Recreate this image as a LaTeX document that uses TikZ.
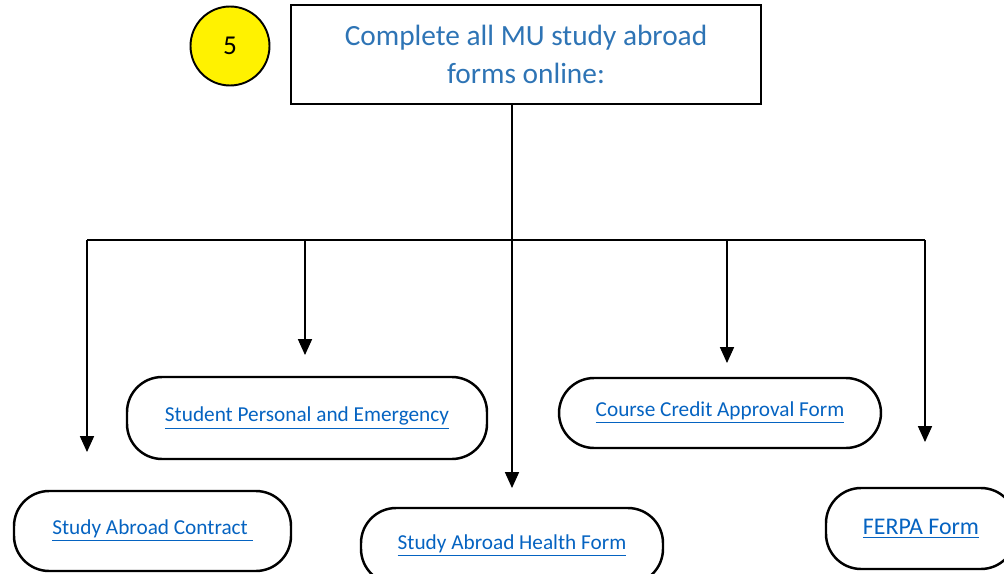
\documentclass[tikz,border=0pt]{standalone}
\usepackage{fontspec}
\setmainfont{Carlito}
\usetikzlibrary{arrows.meta}
\definecolor{titleblue}{HTML}{2E74B5}
\definecolor{linkblue}{HTML}{0563C1}
\tikzset{
  formbox/.style={draw=black, line width=1.4pt, rounded corners=20pt, inner sep=0pt, text=linkblue, font=\fontsize{12.1}{14}\selectfont},
  tip/.style={-{Triangle[length=9pt,width=8pt]}, line width=0.6pt}
}
\begin{document}
\begin{tikzpicture}[x=0.02cm,y=-0.02cm]
\useasboundingbox (0,0) rectangle (1004,574);
\node [circle, draw=black, line width=1.1pt, fill=yellow, minimum size=79*0.02cm, font=\fontsize{15.5}{18}\selectfont] (num) at (230,46) {5};
\node [draw=black, line width=1.1pt, minimum width=470*0.02cm, minimum height=99*0.02cm, align=center, text=titleblue, font=\fontsize{16.7}{21.5}\selectfont] (top) at (526,54.5) {Complete all MU study abroad\\forms online:};
\node [formbox, minimum width=360*0.02cm, minimum height=82*0.02cm] (personal) at (307,418) {\underline{Student Personal and Emergency}};
\node [formbox, minimum width=322*0.02cm, minimum height=70*0.02cm] (credit) at (720,413) {\underline{Course Credit Approval Form}};
\node [formbox, minimum width=277*0.02cm, minimum height=80*0.02cm] (contract) at (152.5,531) {\underline{Study Abroad Contract\ }};
\node [formbox, minimum width=302*0.02cm, minimum height=76*0.02cm] (health) at (512,546) {\underline{Study Abroad Health Form}};
\node [formbox, minimum width=190*0.02cm, minimum height=81*0.02cm, font=\fontsize{13.6}{16}\selectfont] (ferpa) at (921,528.5) {\underline{FERPA Form}};
\coordinate (busL) at (87,240);
\coordinate (busR) at (925,240);
\coordinate (busA) at (305,240);
\coordinate (busD) at (727,240);
\coordinate (tipL) at (87,452);
\coordinate (tipA) at (305,355);
\coordinate (tipC) at (512,488);
\coordinate (tipD) at (727,363);
\coordinate (tipR) at (925,442);
\draw [line width=0.6pt] (busL) -- (busR);
\draw [tip] (top.south -| tipC) -- (tipC);
\draw [tip] (busL) -- (tipL);
\draw [tip] (busA) -- (tipA);
\draw [tip] (busD) -- (tipD);
\draw [tip] (busR) -- (tipR);
\end{tikzpicture}
\end{document}
